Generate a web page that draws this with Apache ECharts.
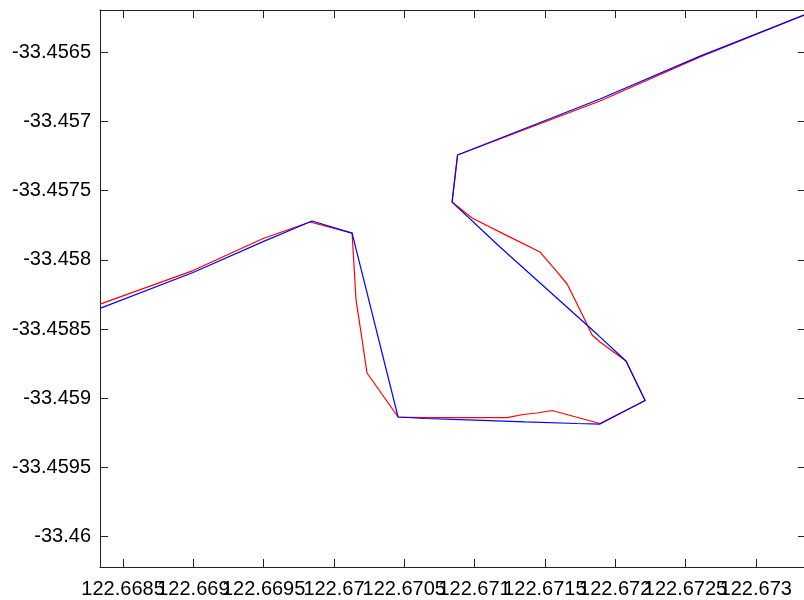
<!DOCTYPE html>
<html>
<head>
<meta charset="utf-8">
<script src="https://cdn.jsdelivr.net/npm/echarts@6/dist/echarts.min.js"></script>
<style>html,body{margin:0;padding:0;background:#fff}#c{width:804px;height:600px}</style>
</head>
<body>
<div id="c"></div>
<script>
var xTicks = [122.6685, 122.669, 122.6695, 122.67, 122.6705, 122.671, 122.6715, 122.672, 122.6725, 122.673];
var yTicks = [-33.4565, -33.457, -33.4575, -33.458, -33.4585, -33.459, -33.4595, -33.46];
var xRange = [122.668336, 122.673343];
var yRange = [-33.460219, -33.456194];

var redX = [122.668336,122.668998,122.669496,122.66983,122.670129,122.670157,122.670193,122.670235,122.670456,122.670648,122.671231,122.671345,122.671444,122.671551,122.671629,122.671892,122.672213,122.672077,122.671892,122.671836,122.671764,122.671715,122.671658,122.671587,122.671466,122.671252,122.670982,122.67084,122.670879,122.671892,122.672604,122.673343];
var redY = [-33.458319,-33.458077,-33.457845,-33.457726,-33.457806,-33.45829,-33.458528,-33.458817,-33.459135,-33.459139,-33.459139,-33.459117,-33.459106,-33.459088,-33.45911,-33.459182,-33.459016,-33.45873,-33.458593,-33.458543,-33.458391,-33.45829,-33.458174,-33.458087,-33.457943,-33.457835,-33.457697,-33.457582,-33.457242,-33.456852,-33.456534,-33.45623];

var blueX = [122.668336,122.668998,122.669496,122.669844,122.670129,122.670456,122.670648,122.671003,122.671359,122.671729,122.671892,122.672213,122.672077,122.671878,122.671466,122.671181,122.67084,122.670879,122.671892,122.672604,122.673343];
var blueY = [-33.45835,-33.458091,-33.457868,-33.457719,-33.457806,-33.459135,-33.459146,-33.459157,-33.459171,-33.459182,-33.459186,-33.459016,-33.45873,-33.458543,-33.458167,-33.457907,-33.457582,-33.457242,-33.456837,-33.456527,-33.45623];

function pairs(xs, ys){ var o=[]; for(var i=0;i<xs.length;i++) o.push([xs[i], ys[i]]); return o; }
var xTicksEven = xTicks.filter(function(v,i){return i%2===0;});
var xTicksOdd = xTicks.filter(function(v,i){return i%2===1;});

var font = {fontFamily:'Liberation Sans, Arial, sans-serif', fontSize:20, color:'#000'};
var lineCol = '#222';

function labelAxis(vals){
  return {
    type:'value', position:'bottom', offset:0, min:xRange[0], max:xRange[1],
    axisLine:{show:false, onZero:false}, axisTick:{show:false},
    axisLabel:Object.assign({show:true, margin:12, customValues:vals, showMinLabel:true, showMaxLabel:true, hideOverlap:false, formatter:function(v){return String(v);}}, font),
    splitLine:{show:false}
  };
}

var chart = echarts.init(document.getElementById('c'), null, {renderer:'canvas'});
chart.setOption({
  animation:false,
  backgroundColor:'#fff',
  grid:{left:100, right:0, top:10, bottom:33, containLabel:false},
  xAxis:[{
    type:'value', position:'bottom', min:xRange[0], max:xRange[1],
    axisLine:{show:true, onZero:false, lineStyle:{color:lineCol, width:1}},
    axisTick:{show:true, inside:true, length:8, customValues:xTicks, lineStyle:{color:lineCol}},
    axisLabel:{show:false},
    splitLine:{show:false}
  },{
    type:'value', position:'top', min:xRange[0], max:xRange[1],
    axisLine:{show:true, onZero:false, lineStyle:{color:lineCol, width:1}},
    axisTick:{show:true, inside:true, length:8, customValues:xTicks, lineStyle:{color:lineCol}},
    axisLabel:{show:false},
    splitLine:{show:false}
  }, labelAxis(xTicksEven), labelAxis(xTicksOdd)],
  yAxis:[{
    type:'value', position:'left', min:yRange[0], max:yRange[1],
    axisLine:{show:true, onZero:false, lineStyle:{color:lineCol, width:1}},
    axisTick:{show:true, inside:true, length:8, customValues:yTicks, lineStyle:{color:lineCol}},
    axisLabel:Object.assign({show:true, margin:9, customValues:yTicks, showMinLabel:true, showMaxLabel:true, formatter:function(v){return String(v);}}, font),
    splitLine:{show:false}
  },{
    type:'value', position:'right', min:yRange[0], max:yRange[1],
    axisLine:{show:false},
    axisTick:{show:true, inside:true, length:6, customValues:yTicks, lineStyle:{color:lineCol}},
    axisLabel:{show:false},
    splitLine:{show:false}
  }],
  series:[{
    type:'line', data:pairs(redX, redY), showSymbol:false, symbol:'none',
    lineStyle:{color:'#ff0000', width:1.2}, itemStyle:{color:'#ff0000'}, clip:true
  },{
    type:'line', data:pairs(blueX, blueY), showSymbol:false, symbol:'none',
    lineStyle:{color:'#0000ff', width:1.2}, itemStyle:{color:'#0000ff'}, clip:true
  }]
});
</script>
</body>
</html>
